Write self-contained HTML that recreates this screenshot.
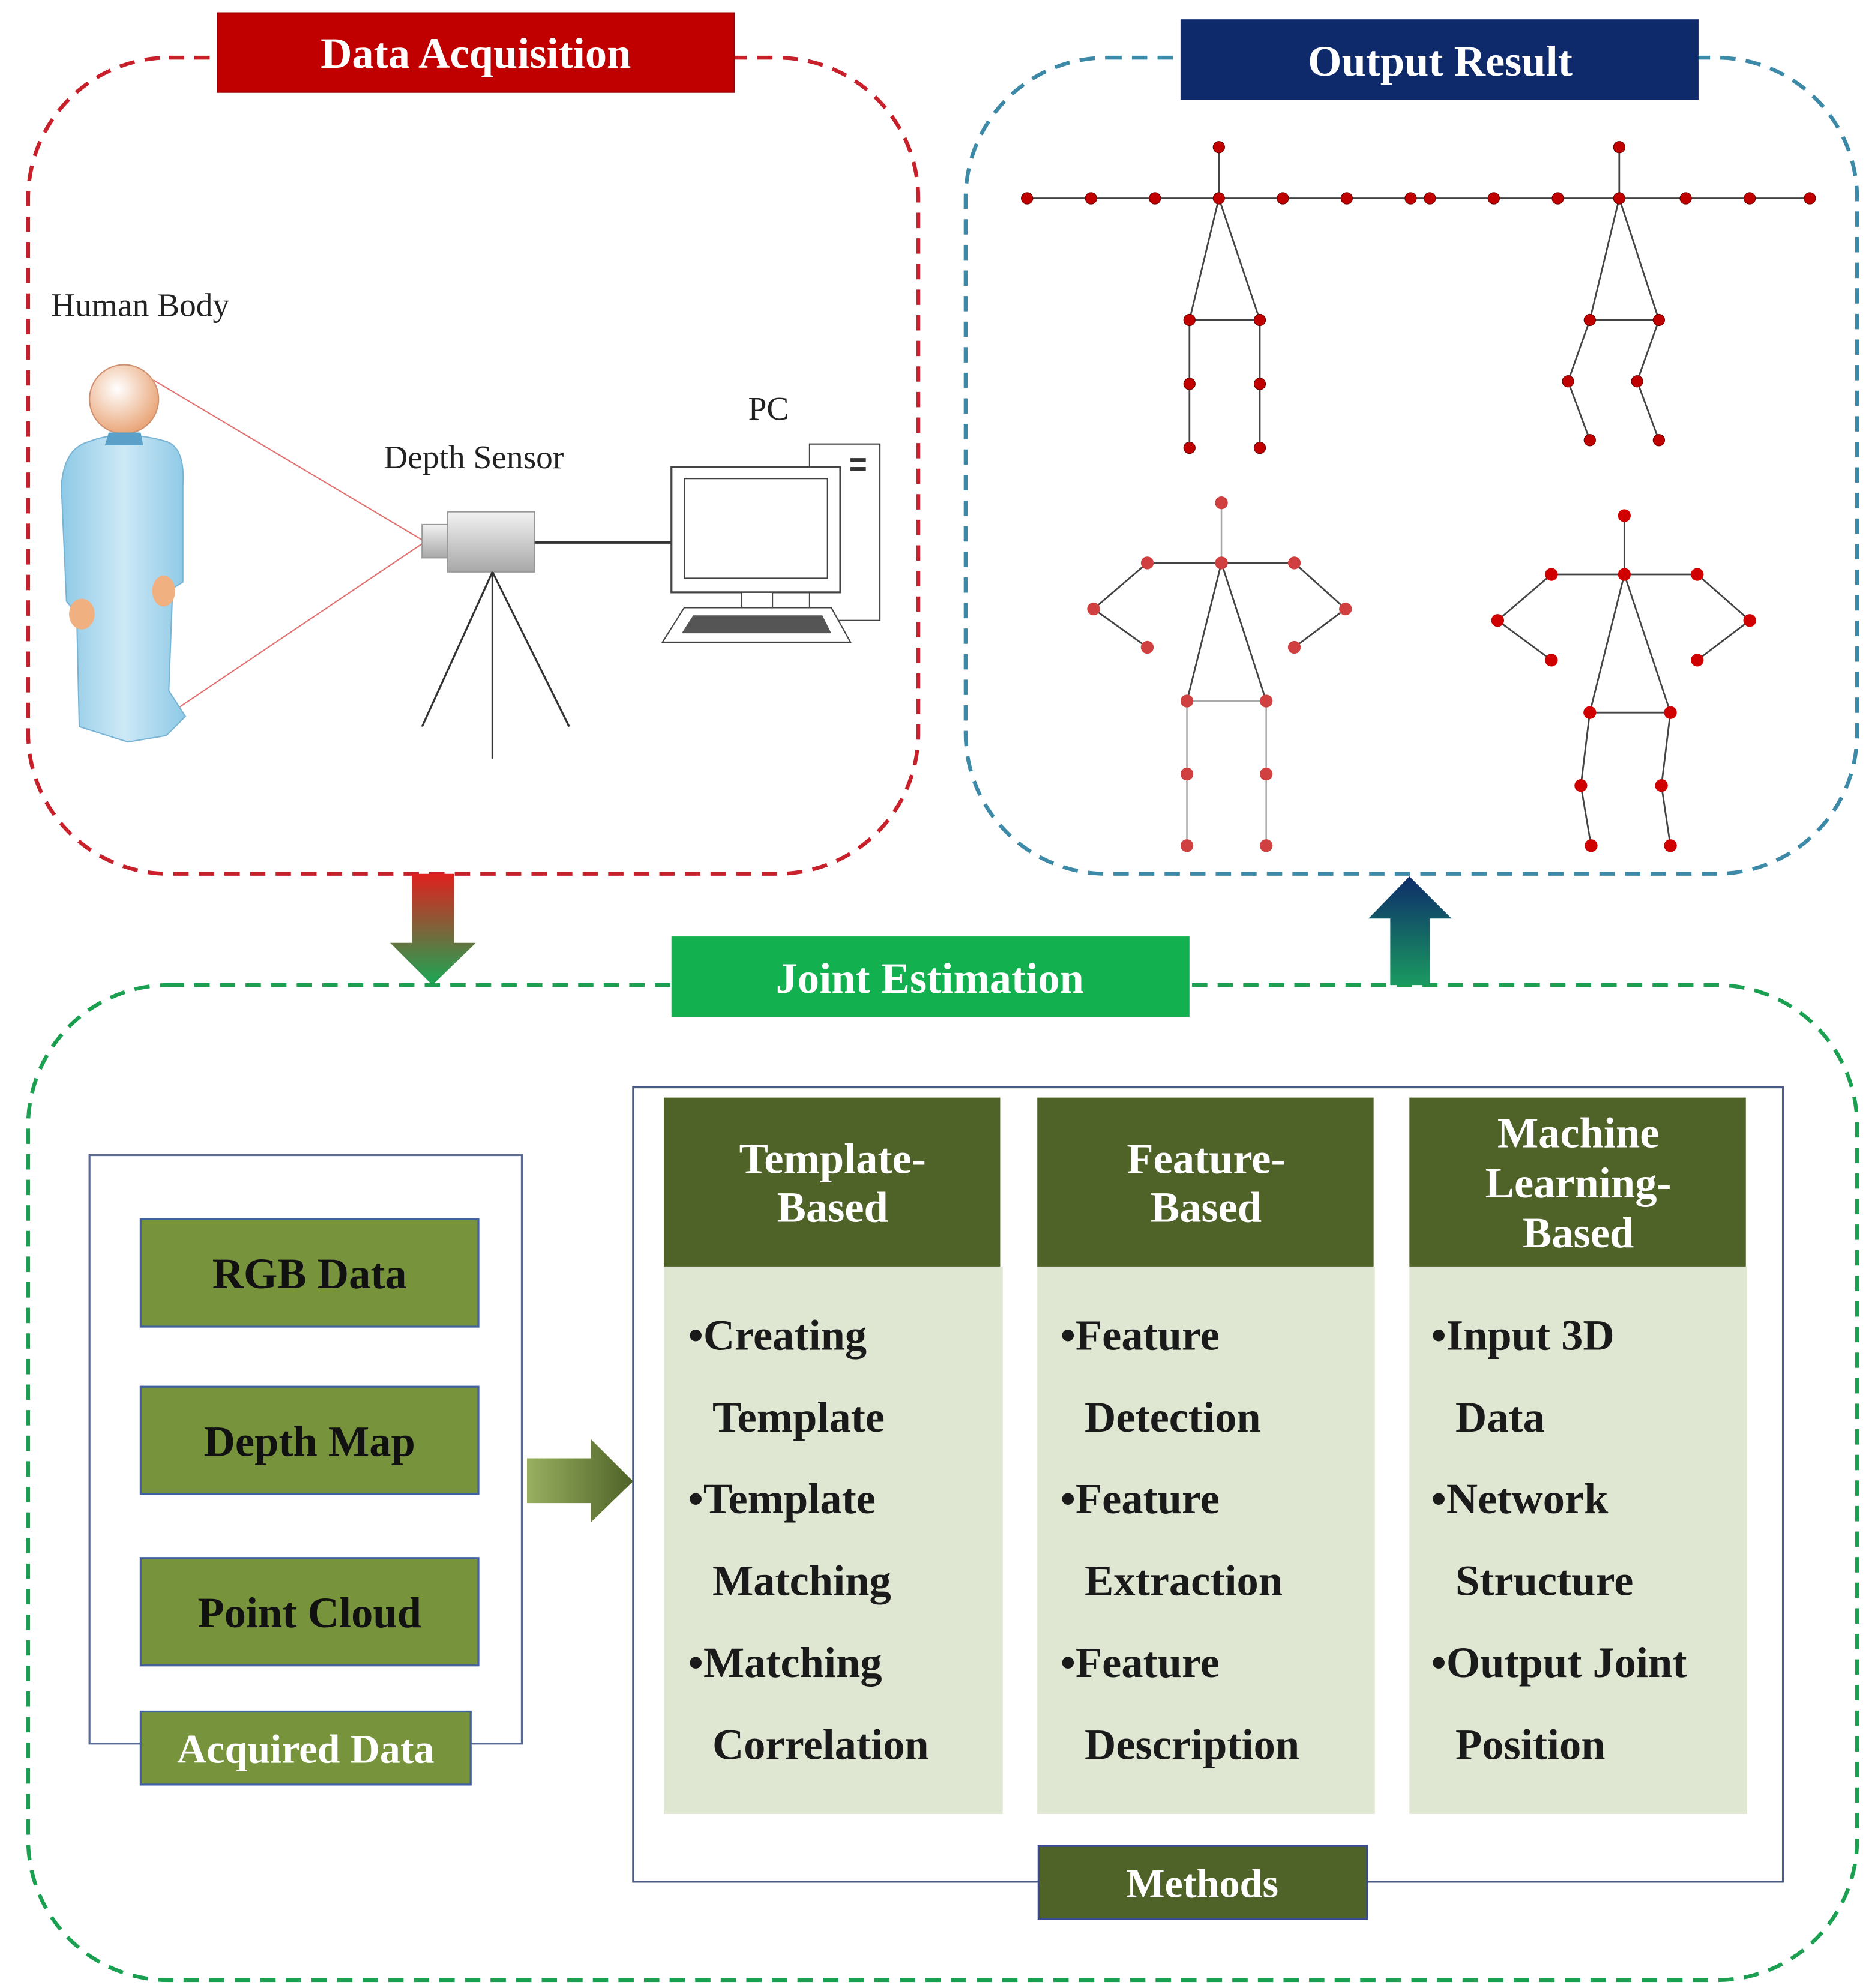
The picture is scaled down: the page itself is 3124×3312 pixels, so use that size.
<!DOCTYPE html>
<html><head><meta charset="utf-8"><style>
html,body{margin:0;padding:0;background:#fff;}
svg{display:block;}
text{font-family:"Liberation Serif",serif;}
</style></head><body>
<svg width="3124" height="3312" viewBox="0 0 1466 1554" xmlns="http://www.w3.org/2000/svg">
<defs>
<linearGradient id="gd" x1="0" y1="0" x2="0" y2="1"><stop offset="0" stop-color="#e0201e"/><stop offset="1" stop-color="#19a855"/></linearGradient>
<linearGradient id="gu" x1="0" y1="0" x2="0" y2="1"><stop offset="0" stop-color="#0e2c6a"/><stop offset="1" stop-color="#1a9a60"/></linearGradient>
<linearGradient id="gr" x1="0" y1="0" x2="1" y2="0"><stop offset="0" stop-color="#98b060"/><stop offset="1" stop-color="#4f6228"/></linearGradient>
<linearGradient id="body" x1="0" y1="0" x2="1" y2="0"><stop offset="0" stop-color="#8ec9e6"/><stop offset="0.5" stop-color="#cde9f6"/><stop offset="1" stop-color="#8ec9e6"/></linearGradient>
<radialGradient id="head" cx="0.4" cy="0.35" r="0.7"><stop offset="0" stop-color="#fff"/><stop offset="1" stop-color="#e8a070"/></radialGradient>
<linearGradient id="cam" x1="0" y1="0" x2="0" y2="1"><stop offset="0" stop-color="#f2f2f2"/><stop offset="1" stop-color="#a8a8a8"/></linearGradient>
</defs>

<!-- dashed regions -->
<rect x="22" y="45" width="696" height="638" rx="110" fill="none" stroke="#c8202a" stroke-width="3" stroke-dasharray="12,8"/>
<rect x="755" y="45" width="697" height="638" rx="110" fill="none" stroke="#3d8aa8" stroke-width="3" stroke-dasharray="12,8"/>
<rect x="22" y="770" width="1430" height="778" rx="110" fill="none" stroke="#1aa050" stroke-width="3" stroke-dasharray="12,8"/>

<!-- titles -->
<rect x="170" y="10" width="404" height="62" fill="#c00000" stroke="#a00000"/>
<text x="372" y="53" text-anchor="middle" font-size="34" font-weight="bold" fill="#fff">Data Acquisition</text>
<rect x="923" y="15" width="405" height="63" fill="#0e2a6a"/>
<text x="1126" y="59" text-anchor="middle" font-size="34" font-weight="bold" fill="#fff">Output Result</text>
<rect x="525" y="732" width="405" height="63" fill="#12b04e"/>
<text x="727" y="776" text-anchor="middle" font-size="34" font-weight="bold" fill="#fff">Joint Estimation</text>

<!-- arrows -->
<path d="M322,683 H355 V737 H372 L338,770 L305,737 H322 Z" fill="url(#gd)"/>
<path d="M1087,770 V718 H1070 L1102,685 L1135,718 H1118 V770 Z" fill="url(#gu)"/>
<path d="M412,1140 H462 V1125 L495,1158 L462,1190 V1175 H412 Z" fill="url(#gr)"/>

<!-- Data acquisition contents -->
<text x="40" y="247" font-size="26" fill="#222">Human Body</text>
<text x="300" y="366" font-size="26" fill="#222">Depth Sensor</text>
<text x="585" y="328" font-size="26" fill="#222">PC</text>
<line x1="120" y1="297" x2="330" y2="422" stroke="#e07070" stroke-width="1"/>
<line x1="140" y1="553" x2="330" y2="425" stroke="#e07070" stroke-width="1"/>
<!-- person -->
<path d="M70,345 Q95,335 130,345 Q145,350 143,380 L143,455 L135,460 L132,540 L145,560 L130,575 L100,580 L62,568 L60,480 L52,470 L48,380 Q50,350 70,345 Z" fill="url(#body)" stroke="#7ab4d4"/>
<ellipse cx="128" cy="462" rx="9" ry="12" fill="#f0b080"/>
<ellipse cx="64" cy="480" rx="10" ry="12" fill="#f0b080"/>
<circle cx="97" cy="312" r="27" fill="url(#head)" stroke="#d09070"/>
<path d="M85,338 L110,338 L112,348 L82,348 Z" fill="#5aa0c8"/>
<!-- camera & tripod -->
<rect x="330" y="410" width="22" height="26" fill="url(#cam)" stroke="#999"/>
<rect x="350" y="400" width="68" height="47" fill="url(#cam)" stroke="#999"/>
<line x1="385" y1="447" x2="385" y2="593" stroke="#333" stroke-width="1.5"/>
<line x1="385" y1="447" x2="330" y2="568" stroke="#333" stroke-width="1.5"/>
<line x1="385" y1="447" x2="445" y2="568" stroke="#333" stroke-width="1.5"/>
<line x1="418" y1="424" x2="535" y2="424" stroke="#333" stroke-width="2"/>
<!-- PC -->
<rect x="633" y="347" width="55" height="138" fill="#fff" stroke="#444"/>
<rect x="665" y="358" width="12" height="3" fill="#333"/><rect x="665" y="365" width="12" height="3" fill="#333"/>
<rect x="525" y="365" width="132" height="98" fill="#fff" stroke="#444" stroke-width="1.5"/>
<rect x="535" y="374" width="112" height="78" fill="#fff" stroke="#444"/>
<rect x="580" y="463" width="24" height="12" fill="#fff" stroke="#444"/>
<path d="M535,475 H650 L665,502 H518 Z" fill="#fff" stroke="#444"/>
<path d="M542,481 H643 L650,495 H533 Z" fill="#555"/>

<!-- skeletons -->
<g stroke="#444" stroke-width="1.3" fill="none">
<line x1="803" y1="155" x2="1415" y2="155"/>
<line x1="953" y1="115" x2="953" y2="155"/><line x1="1266" y1="115" x2="1266" y2="155"/>
<path d="M930,250 L953,155 L985,250 M930,250 H985 M930,250 V350 M985,250 V350"/>
<path d="M1243,250 L1266,155 L1297,250 M1243,250 H1297 M1243,250 L1226,298 L1243,344 M1297,250 L1280,298 L1297,344"/>
</g>
<g stroke="#aaa" stroke-width="1.2" fill="none">
<path d="M955,393 V440 M897,440 H1012 M897,440 L855,476 L897,506 M1012,440 L1052,476 L1012,506 M928,548 L955,440 L990,548 M928,548 H990 M928,548 V661 M990,548 V661"/>
</g>
<g stroke="#444" stroke-width="1.3" fill="none">
<path d="M955,440 L928,548 M955,440 L990,548 M897,440 H1012 M897,440 L855,476 L897,506 M1012,440 L1052,476 L1012,506"/>
<path d="M1270,403 V449 M1213,449 H1327 M1213,449 L1171,485 L1213,516 M1327,449 L1368,485 L1327,516 M1243,557 L1270,449 L1306,557 M1243,557 H1306 M1243,557 L1236,614 L1244,661 M1306,557 L1299,614 L1306,661"/>
</g>
<g fill="#c00000" stroke="#600" stroke-width="0.5">
<circle cx="803" cy="155" r="4.5"/><circle cx="853" cy="155" r="4.5"/><circle cx="903" cy="155" r="4.5"/><circle cx="953" cy="155" r="4.5"/><circle cx="1003" cy="155" r="4.5"/><circle cx="1053" cy="155" r="4.5"/><circle cx="1103" cy="155" r="4.5"/><circle cx="1118" cy="155" r="4.5"/><circle cx="1168" cy="155" r="4.5"/><circle cx="1218" cy="155" r="4.5"/><circle cx="1266" cy="155" r="4.5"/><circle cx="1318" cy="155" r="4.5"/><circle cx="1368" cy="155" r="4.5"/><circle cx="1415" cy="155" r="4.5"/>
<circle cx="953" cy="115" r="4.5"/><circle cx="1266" cy="115" r="4.5"/>
<circle cx="930" cy="250" r="4.5"/><circle cx="985" cy="250" r="4.5"/><circle cx="930" cy="300" r="4.5"/><circle cx="985" cy="300" r="4.5"/><circle cx="930" cy="350" r="4.5"/><circle cx="985" cy="350" r="4.5"/>
<circle cx="1243" cy="250" r="4.5"/><circle cx="1297" cy="250" r="4.5"/><circle cx="1226" cy="298" r="4.5"/><circle cx="1280" cy="298" r="4.5"/><circle cx="1243" cy="344" r="4.5"/><circle cx="1297" cy="344" r="4.5"/>
</g>
<g fill="#d04040">
<circle cx="955" cy="393" r="5"/><circle cx="955" cy="440" r="5"/><circle cx="897" cy="440" r="5"/><circle cx="1012" cy="440" r="5"/><circle cx="855" cy="476" r="5"/><circle cx="1052" cy="476" r="5"/><circle cx="897" cy="506" r="5"/><circle cx="1012" cy="506" r="5"/><circle cx="928" cy="548" r="5"/><circle cx="990" cy="548" r="5"/><circle cx="928" cy="605" r="5"/><circle cx="990" cy="605" r="5"/><circle cx="928" cy="661" r="5"/><circle cx="990" cy="661" r="5"/>
</g>
<g fill="#d00000">
<circle cx="1270" cy="403" r="5"/><circle cx="1270" cy="449" r="5"/><circle cx="1213" cy="449" r="5"/><circle cx="1327" cy="449" r="5"/><circle cx="1171" cy="485" r="5"/><circle cx="1368" cy="485" r="5"/><circle cx="1213" cy="516" r="5"/><circle cx="1327" cy="516" r="5"/><circle cx="1243" cy="557" r="5"/><circle cx="1306" cy="557" r="5"/><circle cx="1236" cy="614" r="5"/><circle cx="1299" cy="614" r="5"/><circle cx="1244" cy="661" r="5"/><circle cx="1306" cy="661" r="5"/>
</g>

<!-- Acquired data -->
<rect x="70" y="903" width="338" height="460" fill="none" stroke="#5a6a90" stroke-width="1.5"/>
<g fill="#77933c" stroke="#4060a0" stroke-width="1.5">
<rect x="110" y="953" width="264" height="84"/><rect x="110" y="1084" width="264" height="84"/><rect x="110" y="1218" width="264" height="84"/>
<rect x="110" y="1338" width="258" height="57"/>
</g>
<g font-size="34" font-weight="bold" fill="#111" text-anchor="middle">
<text x="242" y="1007">RGB Data</text><text x="242" y="1138">Depth Map</text><text x="242" y="1272">Point Cloud</text>
</g>
<text x="239" y="1378" text-anchor="middle" font-size="32" font-weight="bold" fill="#fff">Acquired Data</text>

<!-- Methods -->
<rect x="495" y="850" width="899" height="621" fill="none" stroke="#4a5a88" stroke-width="1.5"/>
<g fill="#dfe6d2"><rect x="519" y="990" width="265" height="428"/><rect x="811" y="990" width="264" height="428"/><rect x="1102" y="990" width="264" height="428"/></g>
<g fill="#4f6228"><rect x="519" y="858" width="263" height="132"/><rect x="811" y="858" width="263" height="132"/><rect x="1102" y="858" width="263" height="132"/></g>
<g font-size="34" font-weight="bold" fill="#fff" text-anchor="middle">
<text x="651" y="917">Template-</text><text x="651" y="955">Based</text>
<text x="943" y="917">Feature-</text><text x="943" y="955">Based</text>
<text x="1234" y="897">Machine</text><text x="1234" y="936">Learning-</text><text x="1234" y="975">Based</text>
</g>
<g font-size="34" font-weight="bold" fill="#1a1a1a">
<text x="538" y="1055">•Creating</text><text x="557" y="1119">Template</text><text x="538" y="1183">•Template</text><text x="557" y="1247">Matching</text><text x="538" y="1311">•Matching</text><text x="557" y="1375">Correlation</text>
<text x="829" y="1055">•Feature</text><text x="848" y="1119">Detection</text><text x="829" y="1183">•Feature</text><text x="848" y="1247">Extraction</text><text x="829" y="1311">•Feature</text><text x="848" y="1375">Description</text>
<text x="1119" y="1055">•Input 3D</text><text x="1138" y="1119">Data</text><text x="1119" y="1183">•Network</text><text x="1138" y="1247">Structure</text><text x="1119" y="1311">•Output Joint</text><text x="1138" y="1375">Position</text>
</g>
<rect x="812" y="1443" width="257" height="57" fill="#4f6228" stroke="#3a4a90" stroke-width="1.5"/>
<text x="940" y="1483" text-anchor="middle" font-size="32" font-weight="bold" fill="#fff">Methods</text>
</svg>
</body></html>
